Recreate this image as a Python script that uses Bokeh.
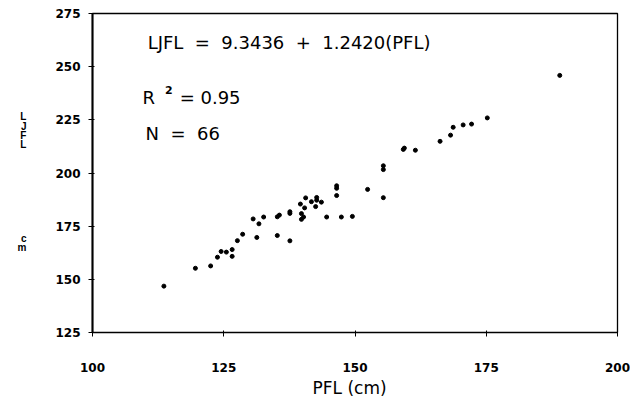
from bokeh.plotting import figure
from bokeh.models import ColumnDataSource, Range1d, FixedTicker
from bokeh.embed import file_html
from bokeh.resources import INLINE
from bokeh.core.properties import value

# PFL (cm) vs LJFL (cm)
pfl = [113.6, 119.6, 122.5, 123.8, 124.5, 125.5, 126.6, 126.6, 127.6, 128.6,
       130.6, 131.7, 132.6, 131.3, 135.2, 135.6, 135.2, 137.6, 137.6, 137.6,
       139.6, 140.6, 140.4, 139.8, 139.8, 140.2, 141.7, 142.7, 142.7, 142.5,
       143.6, 144.6, 147.4, 149.5, 146.5, 146.5, 146.5, 152.4, 155.4, 155.4,
       155.4, 159.2, 159.4, 161.5, 166.2, 168.2, 168.7, 170.6, 172.2, 175.2,
       189.0]
ljfl = [146.8, 155.2, 156.3, 160.4, 163.1, 162.8, 164.0, 160.8, 168.2, 171.2,
        178.4, 176.1, 179.3, 169.7, 179.4, 180.2, 170.6, 181.8, 181.0, 168.1,
        185.4, 188.3, 183.6, 180.9, 178.2, 179.3, 186.5, 188.5, 187.2, 184.2,
        186.3, 179.3, 179.3, 179.6, 194.0, 192.8, 189.4, 192.3, 188.4, 203.4,
        201.6, 211.1, 211.7, 210.7, 214.9, 217.8, 221.5, 222.6, 223.0, 225.9,
        245.9]

x_ticks = [100, 125, 150, 175, 200]
y_ticks = [125, 150, 175, 200, 225, 250, 275]

NB = "\u00a0"
equation = f"LJFL {NB}={NB} 9.3436 {NB}+{NB} 1.2420(PFL)"
r2_base = "R"
r2_sup = "2"
r2_rest = "= 0.95"
n_text = f"N {NB}={NB} 66"

p = figure(width=630, height=400, output_backend="svg", toolbar_location=None,
           x_range=Range1d(100, 200), y_range=Range1d(125, 275),
           min_border_left=92, min_border_right=13, min_border_top=13,
           min_border_bottom=56)

p.xgrid.visible = False
p.ygrid.visible = False
p.outline_line_color = "black"
p.outline_line_width = 1.3
p.background_fill_color = "white"
p.border_fill_color = "white"

src = ColumnDataSource(dict(x=pfl, y=ljfl))
p.scatter("x", "y", source=src, size=4, color="black")

for ax in (p.xaxis[0], p.yaxis[0]):
    ax.axis_line_color = "black"
    ax.major_tick_line_color = "black"
    ax.minor_tick_line_color = None
    ax.major_tick_out = 4
    ax.major_tick_in = 2
    ax.major_label_text_font = "DejaVu Sans"
    ax.major_label_text_font_style = "bold"
    ax.major_label_text_font_size = "12px"
    ax.major_label_text_color = "black"
    ax.axis_label_text_color = "black"

p.xaxis[0].ticker = FixedTicker(ticks=x_ticks)
p.yaxis[0].ticker = FixedTicker(ticks=y_ticks)
p.xaxis[0].axis_line_width = 1.2
p.yaxis[0].axis_line_width = 2
p.xaxis[0].major_label_standoff = 26
p.yaxis[0].major_label_standoff = 8

p.xaxis[0].axis_label = "PFL   (cm)"
p.xaxis[0].axis_label_text_font = "DejaVu Sans"
p.xaxis[0].axis_label_text_font_style = "normal"
p.xaxis[0].axis_label_text_font_size = "17px"
p.xaxis[0].axis_label_standoff = 3

p.yaxis[0].axis_label = "\n\nL\nJ\nF\nL" + "\n" * 10 + "c\nm"
p.yaxis[0].axis_label_orientation = "horizontal"
p.yaxis[0].axis_label_text_font = "Liberation Sans"
p.yaxis[0].axis_label_text_font_style = "bold"
p.yaxis[0].axis_label_text_font_size = "10px"
p.yaxis[0].axis_label_text_line_height = 0.85
p.yaxis[0].axis_label_standoff = 26

font = value("DejaVu Sans")
p.text(x=[110.5], y=[261.4], text=[equation], text_font=font,
       text_font_size="18px", text_baseline="middle", text_align="left", color="black")
p.text(x=[109.5], y=[235.6], text=[r2_base], text_font=font,
       text_font_size="18px", text_baseline="middle", text_align="left", color="black")
p.text(x=[113.8], y=[238.8], text=[r2_sup], text_font=font, text_font_style="bold",
       text_font_size="11px", text_baseline="middle", text_align="left", color="black")
p.text(x=[116.6], y=[235.6], text=[r2_rest], text_font=font,
       text_font_size="18px", text_baseline="middle", text_align="left", color="black")
p.text(x=[110.1], y=[218.4], text=[n_text], text_font=font,
       text_font_size="18px", text_baseline="middle", text_align="left", color="black")

open("out.html", "w").write(file_html(p, INLINE))
